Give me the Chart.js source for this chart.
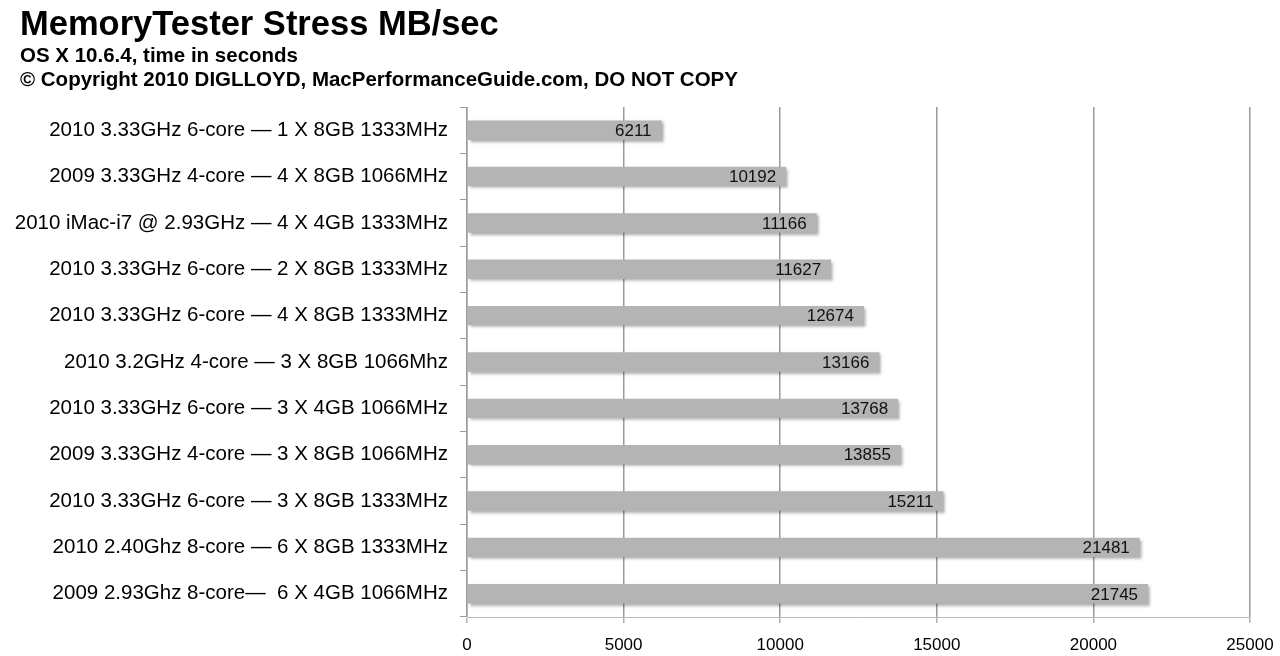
<!DOCTYPE html>
<html>
<head>
<meta charset="utf-8">
<title>MemoryTester Stress MB/sec</title>
<script src="https://cdn.jsdelivr.net/npm/chart.js@4.4.1/dist/chart.umd.min.js"></script>
<style>
  body { margin: 0; background: #fff; font-family: "Liberation Sans", Arial, sans-serif; }
  #wrap { position: relative; width: 1280px; height: 656px; }
  #heading { position: absolute; left: 20px; top: 4px; color: #000; font-weight: bold; }
  #heading h1 { margin: 0; font-size: 34.5px; line-height: 39px; }
  #heading div { font-size: 20.5px; line-height: 24px; }
</style>
</head>
<body>
<div id="wrap">
  <canvas id="memChart" width="1280" height="656"></canvas>
  <div id="heading">
    <h1>MemoryTester Stress MB/sec</h1>
    <div>OS X 10.6.4, time in seconds</div>
    <div>© Copyright 2010 DIGLLOYD, MacPerformanceGuide.com, DO NOT COPY</div>
  </div>
</div>
<script>
// Machines / memory configs, top to bottom
const configs = [
    "2010 3.33GHz 6-core — 1 X 8GB 1333MHz",
    "2009 3.33GHz 4-core — 4 X 8GB 1066MHz",
    "2010 iMac-i7 @ 2.93GHz — 4 X 4GB 1333MHz",
    "2010 3.33GHz 6-core — 2 X 8GB 1333MHz",
    "2010 3.33GHz 6-core — 4 X 8GB 1333MHz",
    "2010 3.2GHz 4-core — 3 X 8GB 1066Mhz",
    "2010 3.33GHz 6-core — 3 X 4GB 1066MHz",
    "2009 3.33GHz 4-core — 3 X 8GB 1066MHz",
    "2010 3.33GHz 6-core — 3 X 8GB 1333MHz",
    "2010 2.40Ghz 8-core — 6 X 8GB 1333MHz",
    "2009 2.93Ghz 8-core—  6 X 4GB 1066MHz"
];

// MB/sec results
const mbPerSec = [6211, 10192, 11166, 11627, 12674, 13166, 13768, 13855, 15211, 21481, 21745];

// x axis range
const axisMin = 0;
const axisMax = 25000;
const axisStep = 5000;

// soft drop shadow under the bars
const barShadow = {
    id: "barShadow",
    beforeDatasetsDraw(chart) {
        const ctx = chart.ctx;
        ctx.save();
        ctx.shadowColor = "rgba(0,0,0,0.35)";
        ctx.shadowBlur = 3;
        ctx.shadowOffsetX = 2;
        ctx.shadowOffsetY = 2;
    },
    afterDatasetsDraw(chart) {
        chart.ctx.restore();
    }
};

// value written inside the end of each bar
const barValues = {
    id: "barValues",
    afterDatasetsDraw(chart) {
        const ctx = chart.ctx;
        const meta = chart.getDatasetMeta(0);
        ctx.save();
        ctx.font = "17px 'Liberation Sans', Arial, sans-serif";
        ctx.fillStyle = "#111";
        ctx.textAlign = "right";
        ctx.textBaseline = "middle";
        meta.data.forEach((bar, i) => {
            ctx.fillText(String(mbPerSec[i]), bar.x - 10, bar.y + 1);
        });
        ctx.restore();
    }
};

new Chart(document.getElementById("memChart"), {
    type: "bar",
    data: {
        labels: configs,
        datasets: [{
            data: mbPerSec,
            backgroundColor: "#b4b4b4",
            borderWidth: 0,
            categoryPercentage: 1,
            barPercentage: 0.42
        }]
    },
    options: {
        indexAxis: "y",
        responsive: false,
        animation: false,
        layout: { padding: { left: 10, right: 30, top: 107, bottom: 0 } },
        plugins: {
            legend: { display: false },
            tooltip: { enabled: false }
        },
        scales: {
            x: {
                min: axisMin,
                max: axisMax,
                afterFit(scale) {
                    scale.height = 39;
                    scale.paddingLeft = 0;
                    scale.paddingRight = 0;
                },
                ticks: {
                    stepSize: axisStep,
                    color: "#000",
                    padding: 12,
                    maxRotation: 0,
                    callback: (v) => String(v),
                    font: { family: "'Liberation Sans', Arial, sans-serif", size: 17 }
                },
                grid: {
                    color: "#9a9a9a",
                    lineWidth: 1.5,
                    tickLength: 6,
                    tickColor: "#b0b0b0"
                },
                border: { color: "#b8b8b8", width: 1 }
            },
            y: {
                afterFit(scale) { scale.width = 457; },
                ticks: {
                    color: "#000",
                    padding: 12,
                    font: { family: "'Liberation Sans', Arial, sans-serif", size: 20.5 }
                },
                grid: {
                    drawOnChartArea: false,
                    tickLength: 7,
                    tickColor: "#9a9a9a"
                },
                border: { color: "#b8b8b8", width: 1 }
            }
        }
    },
    plugins: [barShadow, barValues]
});
</script>
</body>
</html>
